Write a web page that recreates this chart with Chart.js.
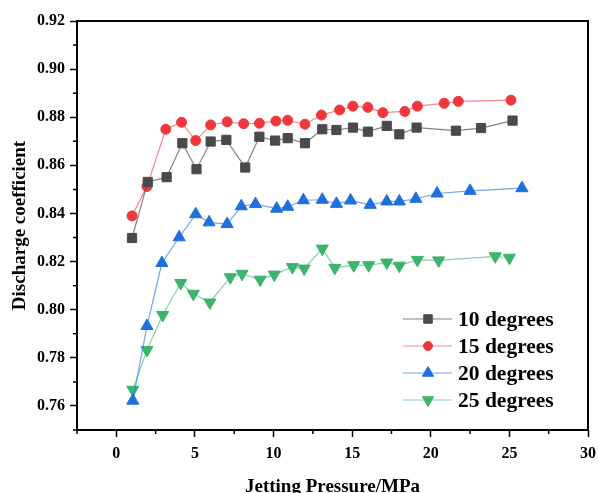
<!DOCTYPE html>
<html>
<head>
<meta charset="utf-8">
<script src="https://cdn.jsdelivr.net/npm/chart.js@4.4.1/dist/chart.umd.min.js"></script>
<style>
  html, body { margin: 0; padding: 0; background: #fff; overflow: hidden; }
  canvas { display: block; }
</style>
</head>
<body>
<canvas id="dischargeChart" width="599" height="493"></canvas>
<script>
// measured discharge coefficients for each nozzle angle
const pressure10 = [1.0, 2.0, 3.2, 4.2, 5.1, 6.0, 7.0, 8.2, 9.1, 10.1, 10.9, 12.0, 13.1, 14.0, 15.05, 16.0, 17.2, 18.0, 19.1, 21.6, 23.2, 25.2];
const coef10     = [0.8298, 0.8531, 0.8551, 0.8692, 0.8584, 0.8699, 0.8706, 0.8591, 0.8719, 0.8703, 0.8713, 0.8692, 0.8750, 0.8747, 0.8757, 0.8740, 0.8764, 0.8729, 0.8757, 0.8744, 0.8755, 0.8786];

const pressure15 = [1.0, 1.95, 3.15, 4.15, 5.05, 6.0, 7.05, 8.1, 9.1, 10.15, 10.9, 12.0, 13.05, 14.2, 15.05, 16.0, 16.95, 18.35, 19.15, 20.85, 21.75, 25.1];
const coef15     = [0.8390, 0.8512, 0.8750, 0.8779, 0.8703, 0.8768, 0.8781, 0.8773, 0.8775, 0.8784, 0.8787, 0.8771, 0.8809, 0.8830, 0.8846, 0.8841, 0.8819, 0.8824, 0.8846, 0.8858, 0.8866, 0.8871];

const pressure20 = [1.05, 1.95, 2.9, 4.0, 5.05, 5.9, 7.05, 7.95, 8.85, 10.2, 10.9, 11.9, 13.1, 14.0, 14.9, 16.15, 17.2, 18.0, 19.05, 20.4, 22.5, 25.8];
const coef20     = [0.7622, 0.7932, 0.8194, 0.8301, 0.8397, 0.8363, 0.8356, 0.8430, 0.8439, 0.8420, 0.8428, 0.8455, 0.8457, 0.8440, 0.8454, 0.8436, 0.8450, 0.8450, 0.8461, 0.8483, 0.8494, 0.8505];

const pressure25 = [1.05, 1.95, 2.95, 4.1, 4.9, 5.95, 7.25, 8.0, 9.15, 10.05, 11.2, 11.95, 13.1, 13.9, 15.1, 16.05, 17.2, 18.0, 19.15, 20.5, 24.1, 25.0];
const coef25     = [0.7667, 0.7832, 0.7978, 0.8111, 0.8066, 0.8030, 0.8135, 0.8149, 0.8125, 0.8146, 0.8177, 0.8171, 0.8254, 0.8174, 0.8185, 0.8185, 0.8196, 0.8183, 0.8207, 0.8205, 0.8222, 0.8216];

const seriesLabels = ['10 degrees', '15 degrees', '20 degrees', '25 degrees'];

const xTicks = [0, 5, 10, 15, 20, 25, 30];
const xMinorTicks = [-2.5, 2.5, 7.5, 12.5, 17.5, 22.5, 27.5];
const yTicks = [0.76, 0.78, 0.80, 0.82, 0.84, 0.86, 0.88, 0.90, 0.92];
const yMinorTicks = [0.75, 0.77, 0.79, 0.81, 0.83, 0.85, 0.87, 0.89, 0.91];

const FONT = "'Liberation Serif', 'Times New Roman', serif";

const toPoints = (xs, ys) => xs.map((x, i) => ({ x, y: ys[i] }));

function series(label, xs, ys, color, lineColor, style, radius, rotation) {
  return {
    label,
    data: toPoints(xs, ys),
    borderColor: lineColor,
    borderWidth: 1.2,
    pointStyle: style,
    pointRotation: rotation || 0,
    pointRadius: radius,
    pointHoverRadius: radius,
    pointBackgroundColor: color,
    pointBorderColor: color,
    pointBorderWidth: 1,
    tension: 0,
    fill: false
  };
}

// box around the plot plus the short minor ticks
const framePlugin = {
  id: 'frame',
  afterDraw(chart) {
    const { ctx, chartArea: a, scales } = chart;
    ctx.save();
    ctx.strokeStyle = '#000';
    ctx.lineWidth = 2;
    ctx.strokeRect(a.left, a.top, a.right - a.left, a.bottom - a.top);
    ctx.lineWidth = 1.5;
    ctx.beginPath();
    xMinorTicks.forEach(v => {
      const px = scales.x.getPixelForValue(v);
      ctx.moveTo(px, a.bottom);
      ctx.lineTo(px, a.bottom + 4);
    });
    yMinorTicks.forEach(v => {
      const py = scales.y.getPixelForValue(v);
      ctx.moveTo(a.left, py);
      ctx.lineTo(a.left - 4, py);
    });
    ctx.stroke();
    ctx.restore();
  }
};

// legend inside the plot: line sample with marker, then label
const insideLegend = {
  id: 'insideLegend',
  afterDatasetsDraw(chart) {
    const { ctx, chartArea: a } = chart;
    const x0 = a.right - 185;
    const y0 = a.bottom - 111;
    ctx.save();
    ctx.font = 'bold 21.5px ' + FONT;
    ctx.textBaseline = 'middle';
    ctx.fillStyle = '#000';
    chart.data.datasets.forEach((ds, i) => {
      const y = y0 + i * 27;
      ctx.strokeStyle = ds.borderColor;
      ctx.lineWidth = ds.borderWidth;
      ctx.beginPath();
      ctx.moveTo(x0, y);
      ctx.lineTo(x0 + 49, y);
      ctx.stroke();
      ctx.fillStyle = ds.pointBackgroundColor;
      ctx.strokeStyle = ds.pointBorderColor;
      ctx.lineWidth = 1;
      Chart.helpers.drawPoint(ctx, {
        pointStyle: ds.pointStyle,
        rotation: ds.pointRotation,
        radius: ds.pointRadius - 0.5,
        borderWidth: 1
      }, x0 + 25, y);
      ctx.fillStyle = '#000';
      ctx.fillText(ds.label, x0 + 55, y + 1);
    });
    ctx.restore();
  }
};

const ctx = document.getElementById('dischargeChart').getContext('2d');

new Chart(ctx, {
  type: 'line',
  data: {
    datasets: [
      series(seriesLabels[0], pressure10, coef10, '#4a4a4a', 'rgba(80,80,80,0.7)', 'rect', 6.5),
      series(seriesLabels[1], pressure15, coef15, '#f0373c', 'rgba(240,70,75,0.65)', 'circle', 5),
      series(seriesLabels[2], pressure20, coef20, '#1f6fdc', 'rgba(40,120,225,0.65)', 'triangle', 7),
      series(seriesLabels[3], pressure25, coef25, '#3cb46e', 'rgba(70,185,120,0.65)', 'triangle', 7, 180)
    ]
  },
  options: {
    responsive: false,
    animation: false,
    layout: { padding: { left: 0, right: 11, top: 21, bottom: 0 } },
    plugins: {
      legend: { display: false },
      tooltip: { enabled: false }
    },
    scales: {
      x: {
        type: 'linear',
        min: -2.5,
        max: 30,
        afterBuildTicks: s => { s.ticks = xTicks.map(v => ({ value: v })); },
        afterFit: s => { s.height = 63; s.paddingRight = 0; },
        border: { display: false },
        grid: { drawOnChartArea: false, drawTicks: true, tickLength: 7, tickWidth: 1.5, tickColor: '#000' },
        ticks: {
          padding: 7,
          color: '#000',
          font: { family: FONT, size: 16, weight: 'bold' },
          callback: v => String(v)
        },
        title: {
          display: true,
          text: 'Jetting Pressure/MPa',
          color: '#000',
          font: { family: FONT, size: 19, weight: 'bold' },
          padding: { top: 0, bottom: -5 }
        }
      },
      y: {
        min: 0.75,
        max: 0.92,
        afterBuildTicks: s => { s.ticks = yTicks.map(v => ({ value: v })); },
        afterFit: s => { s.width = 77; s.paddingTop = 0; },
        border: { display: false },
        grid: { drawOnChartArea: false, drawTicks: true, tickLength: 7, tickWidth: 1.5, tickColor: '#000' },
        ticks: {
          padding: 5,
          color: '#000',
          font: { family: FONT, size: 16, weight: 'bold' },
          callback: v => Number(v).toFixed(2)
        },
        title: {
          display: true,
          text: 'Discharge coefficient',
          color: '#000',
          font: { family: FONT, size: 19, weight: 'bold' },
          padding: { top: 9, bottom: 0 }
        }
      }
    }
  },
  plugins: [framePlugin, insideLegend]
});
</script>
</body>
</html>
